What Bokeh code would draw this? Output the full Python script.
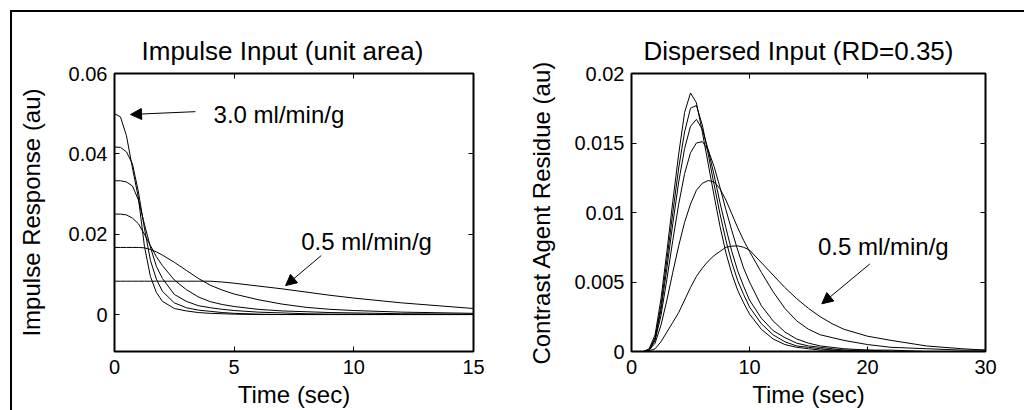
from bokeh.plotting import figure
from bokeh.layouts import row
from bokeh.models import (Range1d, FixedTicker, LinearAxis, Arrow, NormalHead, Title,
                          InlineStyleSheet, GlobalInlineStyleSheet)
from bokeh.core.properties import value
from bokeh.embed import file_html
from bokeh.resources import INLINE

FONT = "Liberation Sans"

# ---------------- data: left panel (impulse responses) ----------------
flows = ["3.0", "2.5", "2.0", "1.5", "1.0", "0.5"]
t_imp = [0, 0.25, 0.5, 0.75, 1.0, 1.25, 1.5, 1.75, 2.0, 2.5, 3.0, 3.5, 4.0, 4.5, 5.0, 6, 7, 8, 9, 10, 12, 15]
imp_30 = [0.0500, 0.0492, 0.0445, 0.0365, 0.0290, 0.0170, 0.0095, 0.0055, 0.0033, 0.0015, 0.0009, 0.0005, 0.0003, 0.0002, 0.0001, 0.0000, 0, 0, 0, 0, 0, 0]
imp_25 = [0.0417, 0.0416, 0.0405, 0.0375, 0.0305, 0.0215, 0.0135, 0.0088, 0.0058, 0.0029, 0.0017, 0.0011, 0.0008, 0.0005, 0.0003, 0.0001, 0, 0, 0, 0, 0, 0]
imp_20 = [0.0333, 0.0333, 0.0330, 0.0320, 0.0285, 0.0225, 0.0168, 0.0120, 0.0090, 0.0050, 0.0033, 0.0022, 0.0017, 0.0013, 0.0010, 0.0006, 0.0004, 0.0002, 0.0001, 0.0001, 0, 0]
imp_15 = [0.0250, 0.0250, 0.0248, 0.0240, 0.0226, 0.0200, 0.0172, 0.0144, 0.0122, 0.0086, 0.0062, 0.0044, 0.0032, 0.0025, 0.0020, 0.0013, 0.0009, 0.0007, 0.0005, 0.0004, 0.0002, 0.0001]
imp_10 = [0.0167, 0.0167, 0.0167, 0.0167, 0.0167, 0.0166, 0.0162, 0.0156, 0.0148, 0.0130, 0.0110, 0.0090, 0.0073, 0.0061, 0.0051, 0.0037, 0.0026, 0.0018, 0.0013, 0.0010, 0.0006, 0.0003]
imp_05 = [0.0083, 0.0083, 0.0083, 0.0083, 0.0083, 0.0083, 0.0083, 0.0083, 0.0083, 0.0083, 0.0083, 0.0083, 0.0083, 0.0081, 0.0078, 0.0071, 0.0064, 0.0056, 0.0048, 0.0041, 0.0029, 0.0015]

# ---------------- data: right panel (dispersed input residues) ----------------
t_disp = [0, 1, 1.5, 2, 2.5, 3, 3.5, 4, 4.5, 5, 5.5, 6, 6.5, 7, 7.5, 8, 8.5, 9, 9.5, 10,
          11, 12, 13, 14, 15, 16, 17, 18, 20, 22, 25, 28, 30]
res_30 = [0, 0, 0.0002, 0.0012, 0.0038, 0.0072, 0.0108, 0.0142, 0.0172, 0.0186, 0.0179, 0.0158, 0.0135, 0.0112, 0.0090, 0.0071, 0.0056, 0.0044, 0.0035, 0.0027,
          0.0016, 0.0009, 0.0005, 0.0003, 0.0002, 0.0001, 0.0001, 0, 0, 0, 0, 0, 0]
res_25 = [0, 0, 0.0001, 0.0010, 0.0033, 0.0066, 0.0100, 0.0132, 0.0158, 0.0175, 0.0177, 0.0163, 0.0142, 0.0120, 0.0099, 0.0080, 0.0064, 0.0051, 0.0041, 0.0032,
          0.0020, 0.0012, 0.0007, 0.0004, 0.0003, 0.0002, 0.0001, 0.0001, 0, 0, 0, 0, 0]
res_20 = [0, 0, 0.0001, 0.0009, 0.0030, 0.0060, 0.0092, 0.0122, 0.0146, 0.0162, 0.0167, 0.0160, 0.0145, 0.0127, 0.0107, 0.0089, 0.0072, 0.0058, 0.0047, 0.0037,
          0.0024, 0.0015, 0.0010, 0.0006, 0.0004, 0.0003, 0.0002, 0.0001, 0.0001, 0, 0, 0, 0]
res_15 = [0, 0, 0.0001, 0.0008, 0.0026, 0.0052, 0.0080, 0.0106, 0.0128, 0.0143, 0.0150, 0.0151, 0.0145, 0.0133, 0.0118, 0.0102, 0.0087, 0.0073, 0.0060, 0.0050,
          0.0033, 0.0022, 0.0014, 0.0009, 0.0006, 0.0004, 0.0003, 0.0002, 0.0001, 0.0001, 0, 0, 0]
res_10 = [0, 0, 0.0001, 0.0006, 0.0019, 0.0037, 0.0057, 0.0076, 0.0093, 0.0106, 0.0116, 0.0121, 0.0123, 0.0122, 0.0117, 0.0109, 0.0099, 0.0089, 0.0080, 0.0072,
          0.0057, 0.0043, 0.0031, 0.0022, 0.0016, 0.0012, 0.0010, 0.0008, 0.0005, 0.0003, 0.0002, 0.0001, 0.0001]
res_05 = [0, 0, 0.00005, 0.0002, 0.0007, 0.0014, 0.0021, 0.0028, 0.0037, 0.0046, 0.0054, 0.0060, 0.0065, 0.0069, 0.0072, 0.0075, 0.00758, 0.0076, 0.0075, 0.0073,
          0.0064, 0.0055, 0.0046, 0.0038, 0.0031, 0.0025, 0.0020, 0.0016, 0.0011, 0.0008, 0.0004, 0.0002, 0.0001]

# ticks
left_xticks = [0, 5, 10, 15]
left_yticks = [0, 0.02, 0.04, 0.06]
left_ytick_labels = ["0", "0.02", "0.04", "0.06"]
right_xticks = [0, 10, 20, 30]
right_yticks = [0, 0.005, 0.01, 0.015, 0.02]
right_ytick_labels = ["0", "0.005", "0.01", "0.015", "0.02"]

# annotations
left_text_x = [4.14, 7.80]
left_text_y = [0.04755, 0.0159]
left_text = ["3.0 ml/min/g", "0.5 ml/min/g"]
left_arrows = [(3.38, 0.0505, 0.67, 0.0498), (8.64, 0.0147, 7.15, 0.0072)]
right_text_x = [15.8]
right_text_y = [0.0069]
right_text = ["0.5 ml/min/g"]
right_arrows = [(20.2, 0.0063, 16.13, 0.00343)]


def style(p, xticks, yticks, ylabels, xlabel, ylabel):
    p.xgrid.visible = False
    p.ygrid.visible = False
    p.outline_line_color = "black"
    p.outline_line_width = 2
    p.background_fill_color = "white"
    p.border_fill_color = "white"
    for ax in p.xaxis + p.yaxis:
        ax.axis_line_color = None
        ax.major_tick_in = 5
        ax.major_tick_out = 0
        ax.minor_tick_line_color = None
        ax.major_tick_line_color = "black"
        ax.major_label_text_font = FONT
        ax.major_label_text_font_size = "20px"
        ax.major_label_text_color = "black"
        ax.axis_label_text_font = FONT
        ax.axis_label_text_font_size = "24px"
        ax.axis_label_text_font_style = "normal"
        ax.axis_label_text_color = "black"
    p.xaxis.ticker = FixedTicker(ticks=xticks)
    p.yaxis.ticker = FixedTicker(ticks=yticks)
    p.yaxis.major_label_overrides = {t: l for t, l in zip(yticks, ylabels)}
    p.xaxis.axis_label = xlabel
    p.yaxis.axis_label = ylabel
    p.xaxis.major_label_standoff = 8
    p.xaxis.axis_label_standoff = 4
    p.yaxis.major_label_standoff = 7
    # mirrored ticks (top / right), no labels
    top = LinearAxis(ticker=FixedTicker(ticks=xticks), major_label_text_font_size="1px",
                     major_label_text_color=None,
                     major_tick_in=5, major_tick_out=0, minor_tick_line_color=None,
                     axis_line_color=None, major_label_standoff=0)
    right = LinearAxis(ticker=FixedTicker(ticks=yticks), major_label_text_font_size="1px",
                       major_label_text_color=None,
                       major_tick_in=5, major_tick_out=0, minor_tick_line_color=None,
                       axis_line_color=None, major_label_standoff=0)
    p.add_layout(top, "above")
    p.add_layout(right, "right")


# ---------------- left figure ----------------
p1 = figure(width=513, height=398, output_backend="svg", toolbar_location=None,
            x_range=Range1d(0, 15), y_range=Range1d(-0.0092, 0.06),
            min_border_left=102, min_border_right=52, min_border_top=61, min_border_bottom=59)
style(p1, left_xticks, left_yticks, left_ytick_labels, "Time (sec)", "Impulse Response (au)")
p1.yaxis[0].axis_label_standoff = 21
for ys in [imp_30, imp_25, imp_20, imp_15, imp_10, imp_05]:
    p1.line(t_imp, ys, line_color="black", line_width=1)
p1.text(left_text_x, left_text_y, text=left_text, text_font=value(FONT), text_font_size="24px",
        text_baseline="alphabetic", text_align="left", text_color="black", y_offset=-9)
for (xs, ys, xe, ye) in left_arrows:
    p1.add_layout(Arrow(end=NormalHead(size=11, fill_color="black", line_color="black"),
                        x_start=xs, y_start=ys, x_end=xe, y_end=ye, line_width=1, line_color="black"))
t1 = Title(text="Impulse Input (unit area)", text_font=FONT, text_font_size="26px",
           text_font_style="normal", text_color="black", align="left", offset=27, standoff=15)
p1.add_layout(t1, "above")

# ---------------- right figure ----------------
p2 = figure(width=499, height=398, output_backend="svg", toolbar_location=None,
            x_range=Range1d(0, 30), y_range=Range1d(0, 0.02),
            min_border_left=103, min_border_right=39, min_border_top=61, min_border_bottom=59)
style(p2, right_xticks, right_yticks, right_ytick_labels, "Time (sec)", "Contrast Agent Residue (au)")
p2.yaxis[0].axis_label_standoff = 16
for ys in [res_30, res_25, res_20, res_15, res_10, res_05]:
    p2.line(t_disp, ys, line_color="black", line_width=1)
p2.text(right_text_x, right_text_y, text=right_text, text_font=value(FONT), text_font_size="24px",
        text_baseline="alphabetic", text_align="left", text_color="black", y_offset=-9)
for (xs, ys, xe, ye) in right_arrows:
    p2.add_layout(Arrow(end=NormalHead(size=11, fill_color="black", line_color="black"),
                        x_start=xs, y_start=ys, x_end=xe, y_end=ye, line_width=1, line_color="black"))
t2 = Title(text="Dispersed Input (RD=0.35)", text_font=FONT, text_font_size="26px",
           text_font_style="normal", text_color="black", align="left", offset=12, standoff=15)
p2.add_layout(t2, "above")

page_css = GlobalInlineStyleSheet(css="html, body { margin: 0; padding: 0; overflow: hidden; background: white; }")
frame_css = InlineStyleSheet(css=":host { border-left: 2px solid black; border-top: 2px solid black; border-right: none; border-bottom: none; background-color: white; }")
layout = row(p1, p2, margin=(10, 0, 0, 10), stylesheets=[page_css, frame_css])

html = file_html(layout, INLINE)
html = html.replace("<head>", "<head><style>html, body { margin: 0; padding: 0; overflow: hidden; }</style>", 1)
open("out.html", "w").write(html)
